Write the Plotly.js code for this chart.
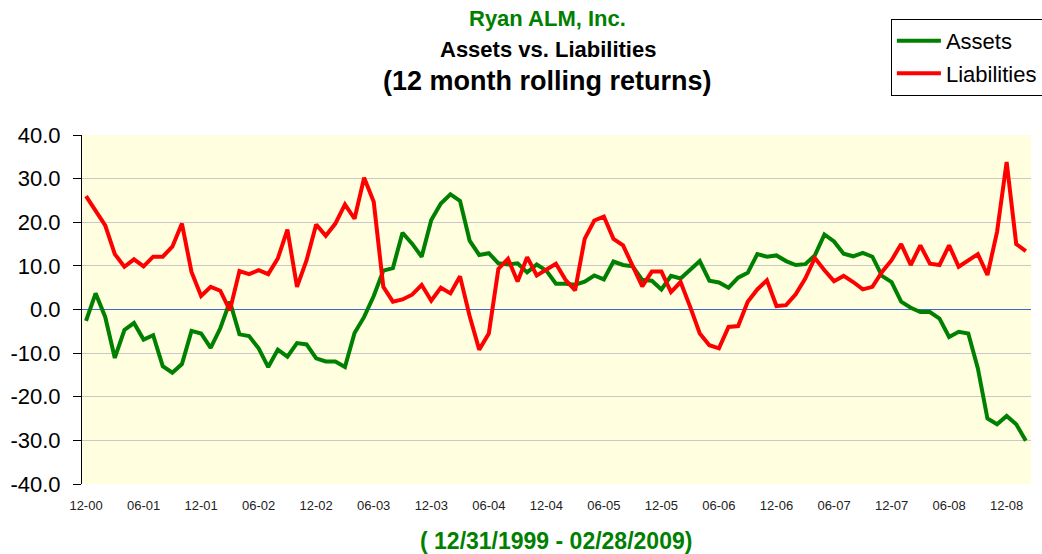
<!DOCTYPE html>
<html>
<head>
<meta charset="utf-8">
<script src="https://cdn.plot.ly/plotly-3.0.1.min.js"></script>
<style>
html,body{margin:0;padding:0;background:#fff;overflow:hidden;}
#chart{width:1042px;height:554px;}
</style>
</head>
<body>
<div id="chart"></div>
<script>
// Month-end categories, Dec 2000 .. Feb 2009 (label format MM-YY)
var startYear = 2000, startMonth = 12, nMonths = 99;
var months = [];
for (var k = 0; k < nMonths; k++) {
  var m = ((startMonth - 1 + k) % 12) + 1;
  var y = startYear + Math.floor((startMonth - 1 + k) / 12);
  months.push((m < 10 ? '0' : '') + m + '-' + String(y).slice(2));
}

var tickLabels = ['12-00','06-01','12-01','06-02','12-02','06-03','12-03','06-04','12-04',
                  '06-05','12-05','06-06','12-06','06-07','12-07','06-08','12-08'];

var assets = [
  -2.6, 3.7, -1.7, -11.1, -4.7, -3.1, -6.9, -5.9, -13.0, -14.5,
  -12.5, -4.9, -5.5, -8.8, -4.3, 1.8, -5.7, -6.1, -8.9, -13.2,
  -9.2, -10.8, -7.7, -8.0, -11.2, -11.9, -11.9, -13.2, -5.4, -1.7,
  3.1, 8.9, 9.5, 17.6, 15.1, 12.1, 20.5, 24.3, 26.4, 24.9,
  15.8, 12.5, 12.9, 10.6, 10.3, 10.6, 8.5, 10.3, 8.9, 5.9,
  5.9, 5.7, 6.4, 7.8, 6.9, 11.0, 10.2, 9.9, 6.8, 6.6,
  4.6, 7.7, 7.1, 9.0, 11.1, 6.6, 6.2, 5.0, 7.3, 8.4,
  12.7, 12.1, 12.4, 11.1, 10.2, 10.4, 12.4, 17.2, 15.6, 12.8,
  12.2, 13.0, 12.1, 7.7, 6.3, 1.8, 0.4, -0.6, -0.6, -2.1,
  -6.3, -5.1, -5.5, -13.5, -25.0, -26.3, -24.4, -26.3, -30.1
];

var liabilities = [
  26.0, 22.7, 19.3, 12.7, 9.8, 11.5, 9.9, 12.1, 12.1, 14.4,
  19.7, 8.6, 3.1, 5.2, 4.3, -0.2, 8.8, 8.1, 9.0, 8.1,
  11.7, 18.3, 5.2, 11.3, 19.5, 16.9, 19.7, 24.1, 20.8, 30.2,
  24.7, 5.2, 1.8, 2.3, 3.4, 5.6, 2.0, 5.0, 3.7, 7.6,
  -1.5, -9.2, -5.5, 9.3, 11.6, 6.4, 12.0, 7.8, 9.2, 10.5,
  6.8, 4.4, 16.2, 20.4, 21.3, 16.2, 14.7, 9.8, 5.3, 8.7,
  8.7, 4.0, 6.3, 0.6, -5.5, -8.2, -8.9, -4.0, -3.8, 1.8,
  4.6, 6.7, 0.8, 1.0, 3.5, 7.1, 11.8, 9.0, 6.5, 7.7,
  6.3, 4.6, 5.2, 8.6, 11.3, 15.0, 10.2, 14.7, 10.5, 10.2,
  14.7, 9.8, 11.3, 12.7, 7.9, 17.8, 33.8, 15.0, 13.4
];

var FONT = '"Liberation Sans", Arial, sans-serif';

var traces = [
  {x: months, y: assets, name: 'Assets', legendgroup: 'a', type: 'scatter', mode: 'lines',
   line: {color: '#008000', width: 4}},
  {x: months, y: liabilities, name: 'Liabilities', legendgroup: 'l', type: 'scatter', mode: 'lines',
   line: {color: '#FF0000', width: 4}}
];

var layout = {
  width: 1042, height: 554,
  margin: {l: 82, r: 11, t: 135, b: 70, autoexpand: false},
  paper_bgcolor: '#FFFFFF',
  plot_bgcolor: '#FFFFE0',
  font: {family: FONT, color: '#000000'},
  showlegend: true,
  legend: {
    xref: 'container', yref: 'container',
    x: 0.855, y: 0.966, xanchor: 'left', yanchor: 'top',
    bgcolor: '#FFFFFF', bordercolor: '#000000', borderwidth: 1,
    font: {family: FONT, size: 22, color: '#000000'},
    itemwidth: 44,
    tracegroupgap: 1
  },
  xaxis: {
    type: 'category',
    range: [-0.42, 98.54],
    tickmode: 'array',
    tickvals: tickLabels,
    ticktext: tickLabels,
    ticks: 'outside', ticklen: 9, tickcolor: 'rgba(0,0,0,0)',
    tickfont: {family: FONT, size: 13, color: '#222222'},
    showgrid: false, showline: false, zeroline: false, fixedrange: true
  },
  yaxis: {
    range: [-40, 40],
    tickmode: 'array',
    tickvals: [-40, -30, -20, -10, 0, 10, 20, 30, 40],
    ticktext: ['-40.0', '-30.0', '-20.0', '-10.0', '0.0', '10.0', '20.0', '30.0', '40.0'],
    ticks: 'outside', ticklen: 8, tickcolor: '#000000', tickwidth: 1,
    ticklabelstandoff: 8,
    tickfont: {family: FONT, size: 22, color: '#000000'},
    showline: true, linecolor: '#000000', linewidth: 1,
    showgrid: true, gridcolor: '#C8C8C8', gridwidth: 1,
    zeroline: true, zerolinecolor: '#3A66D8', zerolinewidth: 1,
    fixedrange: true
  },
  annotations: [
    {text: '<b>Ryan ALM, Inc.</b>', xref: 'paper', yref: 'paper', x: 0.491, y: 1.334,
     xanchor: 'center', yanchor: 'middle', showarrow: false,
     font: {family: FONT, size: 22, color: '#008000'}},
    {text: '<b>Assets vs. Liabilities</b>', xref: 'paper', yref: 'paper', x: 0.491, y: 1.245,
     xanchor: 'center', yanchor: 'middle', showarrow: false,
     font: {family: FONT, size: 22, color: '#000000'}},
    {text: '<b>(12 month rolling returns)</b>', xref: 'paper', yref: 'paper', x: 0.491, y: 1.155,
     xanchor: 'center', yanchor: 'middle', showarrow: false,
     font: {family: FONT, size: 27, color: '#000000'}},
    {text: '<b>( 12/31/1999 - 02/28/2009)</b>', xref: 'paper', yref: 'paper', x: 0.4995, y: -0.163,
     xanchor: 'center', yanchor: 'middle', showarrow: false,
     font: {family: FONT, size: 23, color: '#008000'}}
  ]
};

Plotly.newPlot('chart', traces, layout, {displayModeBar: false, staticPlot: true});
</script>
</body>
</html>
